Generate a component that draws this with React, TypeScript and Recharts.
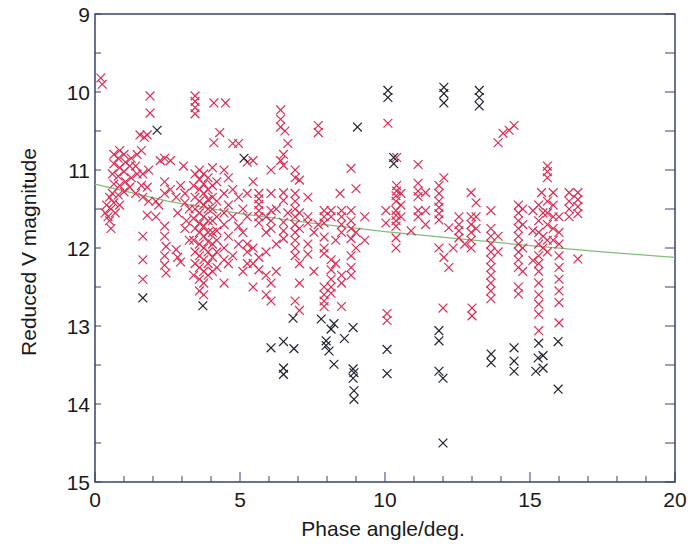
import React from 'react';
import { ScatterChart, Scatter, XAxis, YAxis, ReferenceArea, Label } from 'recharts';

// ---- tick values ----
const xTicks = [0, 1, 2, 3, 4, 5, 6, 7, 8, 9, 10, 11, 12, 13, 14, 15, 16, 17, 18, 19, 20];
const xLabels = [0, 5, 10, 15, 20];
const yTicks = [9, 9.5, 10, 10.5, 11, 11.5, 12, 12.5, 13, 13.5, 14, 14.5, 15];
const yLabels = [9, 10, 11, 12, 13, 14, 15];

// ---- red observations [phase angle, reduced V magnitude] ----
const redLow: [number, number][] = [
  [0.2, 9.82], [0.25, 9.9],
  [0.4, 11.45], [0.45, 11.6], [0.35, 11.55],
  [0.5, 11.35], [0.55, 11.5], [0.5, 11.65], [0.55, 11.75],
  [0.65, 10.8], [0.65, 10.92], [0.6, 11.05], [0.65, 11.18], [0.6, 11.3], [0.65, 11.42], [0.7, 11.55],
  [0.85, 10.75], [0.8, 10.85], [0.85, 10.97], [0.8, 11.08], [0.85, 11.2], [0.8, 11.32], [0.85, 11.45],
  [1.0, 10.8], [1.05, 10.9], [1.0, 11.02], [1.05, 11.15], [1.0, 11.28],
  [1.25, 10.85], [1.2, 10.95], [1.25, 11.1], [1.2, 11.22],
  [1.45, 10.8], [1.4, 10.95], [1.45, 11.05], [1.4, 11.3],
  [1.6, 10.75], [1.65, 11.05], [1.6, 11.2], [1.65, 11.35],
  [1.55, 10.55], [1.7, 10.58], [1.65, 11.85], [1.65, 12.15], [1.65, 12.4],
  [1.9, 10.05], [1.9, 10.27], [1.8, 10.55], [1.85, 11.0], [1.8, 11.22], [1.85, 11.4], [1.8, 11.58],
  [2.1, 11.4], [2.1, 11.6],
  [2.25, 10.88], [2.2, 11.45],
  [2.4, 10.85], [2.4, 11.15], [2.4, 11.3], [2.4, 11.72], [2.4, 11.85], [2.45, 11.98], [2.4, 12.1], [2.4, 12.22], [2.45, 12.32],
  [2.6, 10.88], [2.6, 11.25],
  [2.8, 11.35], [2.85, 11.55], [2.8, 12.02], [2.85, 12.12], [2.95, 12.18], [2.95, 11.2],
  [3.05, 10.95], [3.1, 11.3], [3.1, 11.42], [3.15, 11.65], [3.1, 11.75],
  [3.25, 11.5], [3.25, 11.9],
  [3.45, 10.05], [3.45, 10.12], [3.45, 10.2], [3.45, 10.28],
  [3.45, 11.05], [3.4, 11.2], [3.45, 11.35], [3.45, 11.5], [3.4, 11.62], [3.45, 11.75], [3.4, 11.9], [3.45, 12.05], [3.45, 12.2], [3.4, 12.35],
  [3.6, 11.0], [3.6, 11.12], [3.6, 11.25], [3.6, 11.4], [3.6, 11.55], [3.6, 11.68], [3.6, 11.8], [3.6, 11.95], [3.6, 12.1], [3.6, 12.25], [3.6, 12.4], [3.6, 12.55],
  [3.75, 11.05], [3.75, 11.18], [3.75, 11.3], [3.75, 11.45], [3.75, 11.6], [3.75, 11.72], [3.75, 11.85], [3.75, 12.0], [3.75, 12.15], [3.75, 12.3], [3.75, 12.45], [3.75, 12.6],
  [3.9, 11.1], [3.9, 11.25], [3.9, 11.38], [3.9, 11.5], [3.9, 11.65], [3.9, 11.8], [3.9, 11.92], [3.9, 12.05], [3.9, 12.2], [3.9, 12.35],
  [4.05, 10.97], [4.1, 10.65], [4.05, 11.2], [4.05, 11.35], [4.05, 11.5], [4.05, 11.65], [4.05, 11.8], [4.05, 11.95], [4.05, 12.12], [4.05, 12.3],
  [4.2, 11.15], [4.2, 11.4], [4.2, 11.6], [4.2, 11.78], [4.2, 11.9], [4.2, 12.05], [4.2, 12.25],
  [4.3, 10.52], [4.1, 10.14], [4.5, 10.14],
  [4.45, 11.0], [4.45, 11.3], [4.45, 11.55], [4.45, 11.7], [4.45, 12.0], [4.45, 12.15], [4.45, 12.45],
  [4.6, 11.1], [4.6, 11.45], [4.6, 11.85], [4.6, 12.2],
  [4.75, 10.66], [4.75, 11.25], [4.75, 11.6], [4.75, 12.1],
  [4.95, 10.66], [4.95, 11.35], [4.95, 11.72], [4.95, 11.95],
];

const redMid: [number, number][] = [
  [5.1, 11.5], [5.1, 11.8], [5.1, 12.3],
  [5.25, 10.9], [5.25, 11.3], [5.25, 11.6], [5.25, 11.95], [5.25, 12.05], [5.25, 12.2],
  [5.45, 10.88], [5.45, 11.15], [5.45, 12.0], [5.45, 12.2], [5.45, 12.5],
  [5.65, 11.3], [5.65, 11.37], [5.65, 11.44], [5.65, 11.52], [5.65, 11.6], [5.65, 11.68], [5.65, 12.12], [5.65, 12.28],
  [5.9, 11.6], [5.9, 11.8], [5.9, 12.05], [5.9, 12.35], [5.9, 12.6],
  [6.07, 11.0], [6.07, 11.3], [6.07, 11.52], [6.07, 11.65], [6.07, 11.75], [6.07, 12.45], [6.07, 12.68],
  [6.25, 11.5], [6.25, 11.95], [6.25, 12.3],
  [6.4, 10.23], [6.4, 10.35], [6.4, 10.45], [6.4, 10.88],
  [6.55, 10.5], [6.5, 10.8], [6.5, 10.94], [6.5, 11.29], [6.5, 11.39], [6.5, 11.67], [6.5, 11.78], [6.5, 11.88],
  [6.65, 10.66], [6.65, 11.55],
  [6.9, 11.0], [6.9, 11.1], [6.9, 11.3], [6.9, 11.4], [6.9, 11.5], [6.9, 11.6], [6.9, 11.7], [6.9, 11.8], [6.9, 11.9], [6.9, 12.0], [6.9, 12.1], [6.9, 12.68],
  [7.05, 11.13], [7.05, 11.55], [7.05, 11.75], [7.05, 12.2], [7.05, 12.45], [7.05, 12.8],
  [7.34, 11.35], [7.34, 11.6], [7.34, 11.68], [7.34, 11.95], [7.34, 12.08],
  [7.55, 11.8], [7.55, 12.3],
  [7.7, 10.43], [7.7, 10.52], [7.7, 11.7],
  [7.9, 11.52], [7.9, 11.6], [7.9, 11.68], [7.9, 11.86], [7.9, 12.0], [7.9, 12.07], [7.9, 12.5], [7.9, 12.6], [7.9, 12.68], [7.9, 12.75],
  [8.14, 11.52], [8.14, 11.6], [8.14, 12.15], [8.14, 12.28], [8.14, 12.4], [8.14, 12.5], [8.14, 12.58],
  [8.3, 11.9], [8.3, 12.2],
  [8.45, 11.3], [8.5, 11.52], [8.5, 11.6], [8.5, 11.7], [8.5, 11.8], [8.5, 12.35], [8.5, 12.45], [8.5, 12.75],
  [8.83, 10.98], [8.83, 11.52], [8.83, 11.65], [8.83, 11.75], [8.83, 11.88], [8.83, 12.1], [8.83, 12.25], [8.83, 12.35],
  [9.0, 11.24], [9.0, 11.8], [9.0, 12.0],
  [9.3, 11.6], [9.3, 11.9],
  [10.03, 11.52], [10.03, 11.68], [10.07, 12.84], [10.07, 12.93], [10.1, 10.4],
];

const redHigh: [number, number][] = [
  [10.4, 10.84], [10.4, 11.2], [10.4, 11.27], [10.38, 11.33], [10.38, 11.4], [10.38, 11.52], [10.38, 11.58], [10.38, 11.65], [10.38, 11.72], [10.38, 11.87], [10.38, 12.0],
  [10.55, 11.3], [10.55, 11.45], [10.55, 11.6],
  [10.9, 11.78],
  [11.14, 10.93], [11.14, 11.17], [11.14, 11.27], [11.14, 11.34], [11.14, 11.52], [11.14, 11.6],
  [11.4, 11.29], [11.4, 11.52], [11.4, 11.7],
  [11.86, 11.2], [11.86, 11.3], [11.86, 11.4], [11.86, 11.48], [11.86, 11.56], [11.86, 11.64], [11.86, 12.0], [12.0, 12.77],
  [12.03, 12.12], [12.03, 11.1],
  [12.2, 11.74], [12.2, 12.25], [12.35, 12.0],
  [12.55, 11.6], [12.55, 11.7], [12.55, 11.78], [12.55, 11.87],
  [12.75, 11.95],
  [12.97, 11.29], [12.97, 11.6], [12.97, 11.7], [12.97, 11.8], [12.97, 11.9], [12.97, 12.0], [13.0, 12.77], [13.0, 12.87],
  [13.14, 11.42], [13.14, 11.6], [13.14, 11.75],
  [13.65, 11.52], [13.65, 11.75], [13.65, 11.85], [13.65, 11.95], [13.65, 12.05], [13.65, 12.15], [13.65, 12.25], [13.65, 12.35], [13.65, 12.45], [13.65, 12.55], [13.65, 12.65],
  [13.9, 10.65], [13.9, 11.85], [13.9, 12.05],
  [14.07, 10.53], [14.28, 10.49], [14.45, 10.43],
  [14.6, 11.45], [14.6, 11.55], [14.6, 11.65], [14.6, 11.75], [14.6, 11.85], [14.6, 11.95], [14.6, 12.05], [14.6, 12.15], [14.6, 12.25], [14.6, 12.5], [14.6, 12.59],
  [14.75, 11.5], [14.75, 11.7], [14.75, 12.0], [14.75, 12.3],
  [15.1, 11.52], [15.1, 11.78], [15.1, 12.16],
  [15.3, 11.45], [15.3, 11.65], [15.3, 11.8], [15.3, 11.95], [15.3, 12.1], [15.3, 12.2], [15.3, 12.3], [15.3, 12.45], [15.3, 12.6], [15.3, 12.72], [15.3, 12.85], [15.3, 13.06],
  [15.4, 11.29], [15.45, 11.55], [15.45, 11.85], [15.45, 12.0],
  [15.6, 10.95], [15.6, 11.02], [15.6, 11.1], [15.6, 11.4], [15.6, 11.55], [15.6, 11.7], [15.6, 11.9], [15.6, 12.05],
  [15.8, 11.29], [15.8, 11.45], [15.8, 11.6], [15.8, 11.75], [15.8, 11.9],
  [16.0, 11.6], [16.0, 11.8], [16.0, 11.95], [16.0, 12.1], [16.0, 12.25], [16.0, 12.4], [16.0, 12.55], [16.0, 12.7], [16.0, 12.96],
  [16.35, 11.29], [16.35, 11.4], [16.35, 11.5], [16.35, 11.6],
  [16.65, 11.29], [16.65, 11.38], [16.65, 11.47], [16.65, 11.56], [16.65, 12.14],
];

// ---- black observations ----
const blackPoints: [number, number][] = [
  [1.65, 12.64], [2.14, 10.49], [3.72, 12.74], [5.14, 10.85],
  [6.07, 13.28], [6.5, 13.2], [6.5, 13.54], [6.5, 13.62], [6.86, 13.29], [6.83, 12.9],
  [7.8, 12.91], [8.14, 13.04], [8.24, 12.97], [7.97, 13.19], [7.97, 13.25], [8.07, 13.32], [8.24, 13.49], [8.6, 13.16],
  [8.9, 13.02], [8.9, 13.55], [8.93, 13.6], [8.9, 13.67], [8.93, 13.83], [8.93, 13.94],
  [9.05, 10.45],
  [10.07, 13.3], [10.07, 13.61], [10.1, 9.98], [10.1, 10.07], [10.3, 10.84], [10.3, 10.92],
  [11.86, 13.06], [11.86, 13.19], [11.86, 13.58], [12.0, 13.67], [12.0, 14.5],
  [12.03, 9.94], [12.03, 10.02], [12.03, 10.14],
  [13.25, 9.98], [13.25, 10.07], [13.25, 10.18],
  [13.66, 13.36], [13.66, 13.47], [14.45, 13.28], [14.45, 13.45], [14.45, 13.58],
  [15.3, 13.22], [15.28, 13.41], [15.45, 13.38], [15.2, 13.58], [15.45, 13.54], [15.97, 13.2], [15.97, 13.81],
];

// ---- fitted phase curve ----
const fitPhase = [0, 2.5, 5, 7.5, 10, 12.5, 15, 17.5, 20];
const fitMag = [11.18, 11.4, 11.56, 11.68, 11.79, 11.88, 11.97, 12.05, 12.12];

const toXY = (arr: [number, number][]) => arr.map(([x, y]) => ({ x, y }));
const redData = toXY([...redLow, ...redMid, ...redHigh]);
const blackData = toXY(blackPoints);
const fitData = fitPhase.map((x, i) => ({ x, y: fitMag[i] }));

const AXIS = '#38426e';
const FONT = '"Liberation Sans", Arial, Helvetica, sans-serif';
const RED = '#e22a52';
const BLACK = '#1e2130';

const makeCross = (color: string) => (props: any) => {
  const { cx, cy } = props;
  if (cx == null || cy == null) return <g />;
  const s = 4.4;
  return (
    <g>
      <line x1={cx - s} y1={cy - s} x2={cx + s} y2={cy + s} stroke={color} strokeWidth={1.2} />
      <line x1={cx - s} y1={cy + s} x2={cx + s} y2={cy - s} stroke={color} strokeWidth={1.2} />
    </g>
  );
};

const XTick = (props: any) => {
  const { x, y, payload } = props;
  const v = payload.value;
  const major = xLabels.includes(v);
  return (
    <g>
      <line x1={x} x2={x} y1={y} y2={y - (major ? 10 : 6)} stroke={AXIS} strokeWidth={1} />
      {major && (
        <text x={x} y={y + 25} textAnchor="middle" fontSize={21} fontFamily={FONT} fill="#1a1a1a">
          {v}
        </text>
      )}
    </g>
  );
};

const YTick = (props: any) => {
  const { x, y, payload } = props;
  const v = payload.value;
  const major = yLabels.includes(v);
  return (
    <g>
      <line x1={x} x2={x + 6} y1={y} y2={y} stroke={AXIS} strokeWidth={1} />
      {major && (
        <text x={x - 5} y={y} dy="0.36em" textAnchor="end" fontSize={21} fontFamily={FONT} fill="#1a1a1a">
          {v}
        </text>
      )}
    </g>
  );
};

const YTickRight = (props: any) => {
  const { x, y } = props;
  return <line x1={x} x2={x - 10} y1={y} y2={y} stroke={AXIS} strokeWidth={1} />;
};

export default function App() {
  return (
    <div style={{ position: 'absolute', left: 0, top: 0, width: 688, height: 547, background: '#fff' }}>
      <ScatterChart width={688} height={547} margin={{ top: 14, right: 0, bottom: 0, left: 0 }}>
        <XAxis
          type="number"
          dataKey="x"
          domain={[0, 20]}
          ticks={xTicks}
          interval={0}
          height={65}
          axisLine={false}
          tickLine={false}
          tickSize={0}
          tickMargin={0}
          tick={<XTick />}
          allowDataOverflow
        >
          <Label
            content={() => (
              <text x={383} y={536} textAnchor="middle" fontSize={21} fontFamily={FONT} fill="#1a1a1a">
                Phase angle/deg.
              </text>
            )}
          />
        </XAxis>
        <YAxis
          yAxisId="left"
          type="number"
          dataKey="y"
          domain={[9, 15]}
          reversed
          ticks={yTicks}
          interval={0}
          width={95}
          axisLine={false}
          tickLine={false}
          tickSize={0}
          tickMargin={0}
          tick={<YTick />}
          allowDataOverflow
        >
          <Label
            content={() => (
              <text
                x={36}
                y={252}
                transform="rotate(-90 36 252)"
                textAnchor="middle"
                fontSize={21}
                fontFamily={FONT}
                fill="#1a1a1a"
              >
                Reduced V magnitude
              </text>
            )}
          />
        </YAxis>
        <YAxis
          yAxisId="right"
          orientation="right"
          type="number"
          dataKey="y"
          domain={[9, 15]}
          reversed
          ticks={yTicks}
          interval={0}
          width={13}
          axisLine={false}
          tickLine={false}
          tickSize={0}
          tickMargin={0}
          tick={<YTickRight />}
          allowDataOverflow
        />
        <ReferenceArea
          yAxisId="left"
          x1={0}
          x2={20}
          y1={9}
          y2={15}
          fill="none"
          stroke={AXIS}
          strokeWidth={1.5}
          ifOverflow="visible"
        />
        <Scatter
          yAxisId="right"
          data={fitData}
          line={{ stroke: '#7dbf7a', strokeWidth: 1.2 }}
          shape={() => <g />}
          isAnimationActive={false}
        />
        <Scatter yAxisId="left" data={redData} shape={makeCross(RED)} isAnimationActive={false} />
        <Scatter yAxisId="left" data={blackData} shape={makeCross(BLACK)} isAnimationActive={false} />
      </ScatterChart>
    </div>
  );
}
